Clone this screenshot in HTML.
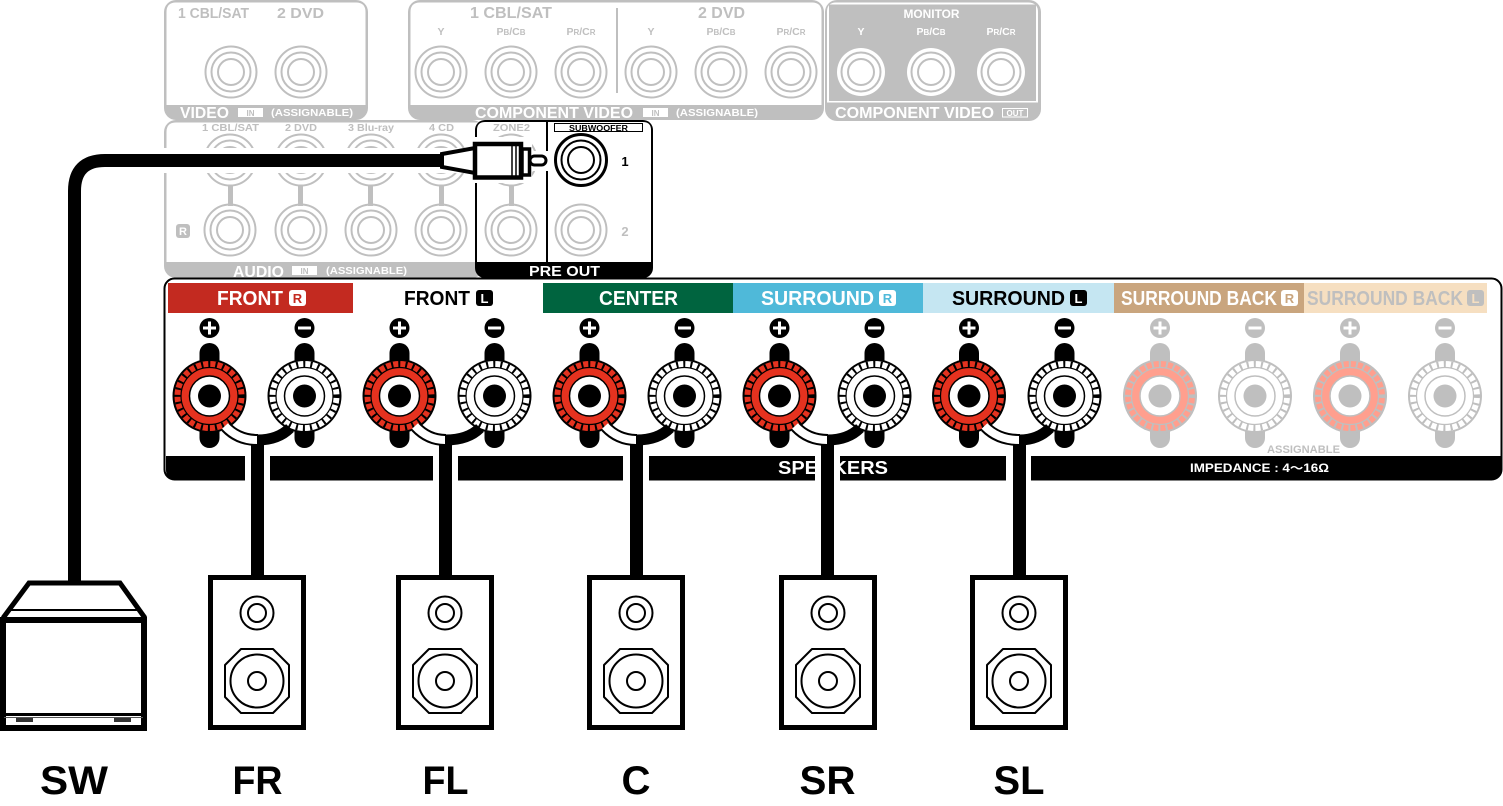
<!DOCTYPE html>
<html><head><meta charset="utf-8"><style>
html,body{margin:0;padding:0;background:#fff;width:1503px;height:806px;overflow:hidden}
svg{display:block}
text{font-family:"Liberation Sans","Noto Sans CJK JP",sans-serif;font-weight:bold}
.g{fill:#bfbfbf}.w{fill:#fff}.k{fill:#000}
.m{text-anchor:middle}
.lab{font-size:40px;fill:#000;text-anchor:middle}
.ban{font-size:20px}
.sm{font-size:10.5px;fill:#bfbfbf;text-anchor:middle}
.b2{font-size:8px}
</style></head><body>
<svg width="1503" height="806" viewBox="0 0 1503 806" xmlns="http://www.w3.org/2000/svg">
<defs>
<g id="jack" fill="none" stroke="currentColor" stroke-width="2">
<circle r="25.5"/><circle r="19.5"/><circle r="13"/>
</g>
<g id="term">
<rect x="-10" y="-53" width="20" height="105" rx="10" fill="currentColor"/>
<circle r="37" fill="currentColor"/>
<circle r="35" fill="var(--o)"/>
<circle r="31.500" fill="none" stroke="currentColor" stroke-width="7" stroke-dasharray="2 5"/>
<circle r="28.500" fill="var(--i)" stroke="currentColor" stroke-width="1.200"/>
<circle r="20" fill="#fff" stroke="var(--l)" stroke-width="1.500"/>
<circle r="11.500" fill="currentColor"/>
</g>
<g id="plus"><circle r="10" fill="currentColor"/><path d="M-6.5 0H6.500M0-6.500V6.500" stroke="#fff" stroke-width="3"/></g>
<g id="minus"><circle r="10" fill="currentColor"/><path d="M-6.500 0H6.500" stroke="#fff" stroke-width="3"/></g>
<g id="spk">
<rect x="2.500" y="2.500" width="93" height="150" fill="#fff" stroke="#000" stroke-width="5"/>
<g fill="none" stroke="#000" stroke-width="2">
<circle cx="49" cy="38" r="16.500"/><circle cx="49" cy="38" r="9"/>
<path d="M33 74H65L81 90V122L65 138H33L17 122V90Z" stroke-linejoin="round"/>
<circle cx="49" cy="106" r="26.500"/><circle cx="49" cy="106" r="9"/>
</g>
</g>
<g id="tr" style="--o:#e5321f;--i:#e5321f;--l:#000"><use href="#term"/></g>
<g id="tw" style="--o:#fff;--i:#fff;--l:#000"><use href="#term"/></g>
<g id="trg" style="--o:#ff9f8e;--i:#ff9f8e;--l:#bfbfbf"><use href="#term"/></g>
<g id="twg" style="--o:#fff;--i:#fff;--l:#bfbfbf"><use href="#term"/></g>
</defs>

<!-- Video panel -->
<rect x="164" y="0" width="204" height="120" rx="12" fill="#bfbfbf"/>
<path d="M176 2.500H356Q365.500 2.500 365.500 12V105H166.500V12Q166.500 2.500 176 2.500Z" fill="#fff"/>
<text x="178" y="18" class="g" font-size="14.500" textLength="71" lengthAdjust="spacingAndGlyphs">1 CBL/SAT</text>
<text x="277" y="18" class="g" font-size="14.500" textLength="47" lengthAdjust="spacingAndGlyphs">2 DVD</text>
<g color="#bfbfbf"><use href="#jack" x="231" y="72"/><use href="#jack" x="301" y="72"/></g>
<text x="180" y="118" class="w" font-size="16" textLength="49" lengthAdjust="spacingAndGlyphs">VIDEO</text>
<rect x="238" y="108" width="25" height="9" fill="#fff"/>
<text x="250.500" y="116" class="g m" font-size="8">IN</text>
<text x="271" y="116" class="w" font-size="10.500" textLength="82" lengthAdjust="spacingAndGlyphs">(ASSIGNABLE)</text>

<!-- Component panel -->
<rect x="408" y="0" width="416" height="120" rx="12" fill="#bfbfbf"/>
<path d="M420 2.500H812Q821.500 2.500 821.500 12V105H410.500V12Q410.500 2.500 420 2.500Z" fill="#fff"/>
<text x="470" y="18" class="g" font-size="15.500" textLength="82" lengthAdjust="spacingAndGlyphs">1 CBL/SAT</text>
<text x="698" y="18" class="g" font-size="15.500" textLength="47" lengthAdjust="spacingAndGlyphs">2 DVD</text>
<rect x="616" y="8" width="2" height="85" fill="#bfbfbf"/>
<text x="441" y="35" class="sm">Y</text>
<text x="511" y="35" class="sm">P<tspan class="b2">B</tspan>/C<tspan class="b2">B</tspan></text>
<text x="581" y="35" class="sm">P<tspan class="b2">R</tspan>/C<tspan class="b2">R</tspan></text>
<text x="651" y="35" class="sm">Y</text>
<text x="721" y="35" class="sm">P<tspan class="b2">B</tspan>/C<tspan class="b2">B</tspan></text>
<text x="791" y="35" class="sm">P<tspan class="b2">R</tspan>/C<tspan class="b2">R</tspan></text>
<g color="#bfbfbf">
<use href="#jack" x="441" y="72"/><use href="#jack" x="511" y="72"/><use href="#jack" x="581" y="72"/>
<use href="#jack" x="651" y="72"/><use href="#jack" x="721" y="72"/><use href="#jack" x="791" y="72"/>
</g>
<text x="475" y="118" class="w" font-size="16" textLength="158" lengthAdjust="spacingAndGlyphs">COMPONENT VIDEO</text>
<rect x="643" y="108" width="25" height="9" fill="#fff"/>
<text x="655.500" y="116" class="g m" font-size="8">IN</text>
<text x="676" y="116" class="w" font-size="10.500" textLength="82" lengthAdjust="spacingAndGlyphs">(ASSIGNABLE)</text>

<!-- Monitor panel -->
<rect x="825" y="0" width="216" height="121" rx="12" fill="#bfbfbf"/>
<path d="M836 2.500H1028Q1038 2.500 1038 12V102.500H827V12Q827 2.500 836 2.500Z" fill="#fff"/>
<rect x="829" y="4.500" width="207" height="96.500" fill="#bfbfbf"/>
<text x="931.500" y="18" class="w m" font-size="12" textLength="56" lengthAdjust="spacingAndGlyphs">MONITOR</text>
<text x="861" y="35" class="w m" font-size="10.500">Y</text>
<text x="931" y="35" class="w m" font-size="10.500">P<tspan class="b2">B</tspan>/C<tspan class="b2">B</tspan></text>
<text x="1001" y="35" class="w m" font-size="10.500">P<tspan class="b2">R</tspan>/C<tspan class="b2">R</tspan></text>
<g color="#bfbfbf">
<circle cx="861" cy="72" r="24" fill="#fff"/><circle cx="931" cy="72" r="24" fill="#fff"/><circle cx="1001" cy="72" r="24" fill="#fff"/>
<use href="#jack" x="861" y="72"/><use href="#jack" x="931" y="72"/><use href="#jack" x="1001" y="72"/>
</g>
<text x="835" y="118" class="w" font-size="16" textLength="159" lengthAdjust="spacingAndGlyphs">COMPONENT VIDEO</text>
<rect x="1002.500" y="108.500" width="25" height="8.500" fill="none" stroke="#fff" stroke-width="1"/>
<text x="1015" y="116" class="w m" font-size="8">OUT</text>

<!-- Audio panel -->
<rect x="164" y="120" width="320" height="158" rx="12" fill="#bfbfbf"/>
<path d="M176 122.500H484V262H166.500V132Q166.500 122.500 176 122.500Z" fill="#fff"/>
<text x="230.500" y="131" class="sm" textLength="57" lengthAdjust="spacingAndGlyphs">1 CBL/SAT</text>
<text x="301" y="131" class="sm" textLength="32" lengthAdjust="spacingAndGlyphs">2 DVD</text>
<text x="371" y="131" class="sm" textLength="46" lengthAdjust="spacingAndGlyphs">3 Blu-ray</text>
<text x="441.500" y="131" class="sm" textLength="25" lengthAdjust="spacingAndGlyphs">4 CD</text>
<rect x="176" y="224" width="14" height="14" rx="3" fill="#bfbfbf"/>
<text x="183" y="235" class="w m" font-size="11">R</text>
<g color="#bfbfbf">
<rect x="228" y="186" width="5" height="20" fill="#bfbfbf"/><rect x="298" y="186" width="5" height="20" fill="#bfbfbf"/><rect x="368" y="186" width="5" height="20" fill="#bfbfbf"/><rect x="439" y="186" width="5" height="20" fill="#bfbfbf"/>
<use href="#jack" x="230" y="160"/><use href="#jack" x="301" y="160"/><use href="#jack" x="371" y="160"/><use href="#jack" x="441" y="160"/>
<use href="#jack" x="230" y="230"/><use href="#jack" x="301" y="230"/><use href="#jack" x="371" y="230"/><use href="#jack" x="441" y="230"/>
</g>
<text x="233" y="277" class="w" font-size="16" textLength="51" lengthAdjust="spacingAndGlyphs">AUDIO</text>
<rect x="292" y="266" width="25" height="9" fill="#fff"/>
<text x="304.500" y="274" class="g m" font-size="8">IN</text>
<text x="326" y="274" class="w" font-size="10.500" textLength="81" lengthAdjust="spacingAndGlyphs">(ASSIGNABLE)</text>

<!-- Pre out -->
<rect x="475" y="120" width="178" height="158" rx="10" fill="#000"/>
<path d="M485 122H643Q651 122 651 130V262H477V130Q477 122 485 122Z" fill="#fff"/>
<rect x="546" y="121" width="2" height="142" fill="#000"/>
<text x="511.500" y="131" class="sm" textLength="37" lengthAdjust="spacingAndGlyphs">ZONE2</text>
<g color="#bfbfbf">
<rect x="509" y="186" width="5" height="20" fill="#bfbfbf"/>
<use href="#jack" x="511" y="160"/><use href="#jack" x="511" y="230"/><use href="#jack" x="581" y="230"/>
</g>
<rect x="554.500" y="123.500" width="88" height="8" fill="#fff" stroke="#000" stroke-width="1"/>
<text x="598.500" y="131" class="k m" font-size="8" textLength="59" lengthAdjust="spacingAndGlyphs">SUBWOOFER</text>
<g color="#000"><use href="#jack" x="581" y="160"/><circle cx="581" cy="160" r="25.500" fill="none" stroke="#000" stroke-width="3"/></g>
<text x="625" y="166" class="k m" font-size="13">1</text>
<text x="625" y="236" class="g m" font-size="13">2</text>
<text x="564.500" y="276" class="w m" font-size="15" textLength="71" lengthAdjust="spacingAndGlyphs">PRE OUT</text>

<!-- Cable with plug -->
<rect x="163" y="148" width="310" height="25" fill="#fff"/>
<rect x="468" y="137" width="64" height="46" fill="#fff"/>
<rect x="530" y="151" width="22" height="20" fill="#fff"/>
<path d="M445 160.500H105Q74.500 160.500 74.500 191V582" fill="none" stroke="#000" stroke-width="13"/>
<path d="M442 154L475 148V173L442 167Z" fill="#fff" stroke="#000" stroke-width="4"/>
<rect x="475" y="144" width="46" height="33.500" fill="#fff" stroke="#000" stroke-width="4.500"/>
<path d="M512 144V178M516 144V178" stroke="#000" stroke-width="1.500"/>
<rect x="522" y="149" width="7.500" height="26" fill="#fff" stroke="#000" stroke-width="3.500"/>
<rect x="530" y="156" width="16" height="9" rx="4.500" fill="#fff" stroke="#000" stroke-width="3"/>

<!-- Speakers panel -->
<rect x="164.500" y="278.500" width="1337" height="201" rx="10" fill="#fff" stroke="#000" stroke-width="2"/>
<rect x="168" y="283" width="185" height="30" fill="#c32a20"/>
<rect x="543" y="283" width="190" height="30" fill="#00643f"/>
<rect x="733" y="283" width="190" height="30" fill="#4fb9d9"/>
<rect x="923" y="283" width="191" height="30" fill="#c5e6f2"/>
<rect x="1114" y="283" width="190" height="30" fill="#c9a57e"/>
<rect x="1304" y="283" width="183" height="30" fill="#f6dfc1"/>

<text x="217" y="305" class="ban w" textLength="66" lengthAdjust="spacingAndGlyphs">FRONT</text>
<rect x="289" y="290" width="17" height="16" rx="3" fill="#fff"/><text x="297.500" y="303" class="m" font-size="13" fill="#c32a20">R</text>
<text x="404" y="305" class="ban k" textLength="66" lengthAdjust="spacingAndGlyphs">FRONT</text>
<rect x="476" y="290" width="17" height="16" rx="3" fill="#000"/><text x="484.500" y="303" class="w m" font-size="13">L</text>
<text x="599" y="305" class="ban w" textLength="79" lengthAdjust="spacingAndGlyphs">CENTER</text>
<text x="761" y="305" class="ban w" textLength="113" lengthAdjust="spacingAndGlyphs">SURROUND</text>
<rect x="879" y="290" width="17" height="16" rx="3" fill="#fff"/><text x="887.500" y="303" class="m" font-size="13" fill="#4fb9d9">R</text>
<text x="952" y="305" class="ban k" textLength="113" lengthAdjust="spacingAndGlyphs">SURROUND</text>
<rect x="1070" y="290" width="17" height="16" rx="3" fill="#000"/><text x="1078.500" y="303" class="w m" font-size="13">L</text>
<text x="1121" y="305" class="ban w" textLength="156" lengthAdjust="spacingAndGlyphs">SURROUND BACK</text>
<rect x="1281" y="290" width="17" height="16" rx="3" fill="#fff"/><text x="1289.500" y="303" class="m" font-size="13" fill="#c9a57e">R</text>
<text x="1307" y="305" class="ban g" textLength="156" lengthAdjust="spacingAndGlyphs">SURROUND BACK</text>
<rect x="1467" y="290" width="17" height="16" rx="3" fill="#bfbfbf"/><text x="1475.500" y="303" class="m" font-size="13" fill="#f6dfc1">L</text>

<g color="#000">
<use href="#plus" x="209.500" y="328"/><use href="#minus" x="304.500" y="328"/>
<use href="#plus" x="399.500" y="328"/><use href="#minus" x="494.500" y="328"/>
<use href="#plus" x="589.500" y="328"/><use href="#minus" x="684.500" y="328"/>
<use href="#plus" x="779.500" y="328"/><use href="#minus" x="874.500" y="328"/>
<use href="#plus" x="969" y="328"/><use href="#minus" x="1064.500" y="328"/>
<use href="#tr" x="209.500" y="396"/><use href="#tw" x="304.500" y="396"/>
<use href="#tr" x="399.500" y="396"/><use href="#tw" x="494.500" y="396"/>
<use href="#tr" x="589.500" y="396"/><use href="#tw" x="684.500" y="396"/>
<use href="#tr" x="779.500" y="396"/><use href="#tw" x="874.500" y="396"/>
<use href="#tr" x="969" y="396"/><use href="#tw" x="1064.500" y="396"/>
</g>
<g color="#bfbfbf">
<use href="#plus" x="1160" y="328"/><use href="#minus" x="1255" y="328"/>
<use href="#plus" x="1350" y="328"/><use href="#minus" x="1445" y="328"/>
<use href="#trg" x="1160" y="396"/><use href="#twg" x="1255" y="396"/>
<use href="#trg" x="1350" y="396"/><use href="#twg" x="1445" y="396"/>
</g>

<!-- Black bar -->
<path d="M166 456H1501V470Q1501 479 1492 479H175Q166 479 166 470Z" fill="#000"/>
<text x="833" y="474" class="w m" font-size="18" textLength="110" lengthAdjust="spacingAndGlyphs">SPEAKERS</text>
<text x="1259.500" y="472" class="w m" font-size="11.500" textLength="139" lengthAdjust="spacingAndGlyphs">IMPEDANCE : 4～16Ω</text>
<text x="1303.500" y="453" class="g m" font-size="11" textLength="73" lengthAdjust="spacingAndGlyphs">ASSIGNABLE</text>

<!-- Speaker wires -->
<g fill="#fff">
<rect x="245" y="450" width="25" height="34"/><rect x="433" y="450" width="25" height="34"/>
<rect x="623" y="450" width="26" height="34"/><rect x="815" y="450" width="25" height="34"/><rect x="1006" y="450" width="25" height="34"/>
</g>
<g fill="#000">
<rect x="251" y="440" width="13" height="136"/><rect x="439" y="440" width="13" height="136"/><rect x="630" y="440" width="13" height="136"/>
<rect x="821" y="440" width="13" height="136"/><rect x="1013" y="440" width="13" height="136"/>
</g>
<g fill="none">
<path d="M290 428Q278 440 257.500 440M480 428Q468 440 445.500 440M670 428Q658 440 636.500 440M860 428Q848 440 827.500 440M1050 428Q1038 440 1019.500 440" stroke="#000" stroke-width="11"/>
<path d="M226 427Q238 440 258 440M416 427Q428 440 446 440M606 427Q618 440 637 440M796 427Q808 440 828 440M985.500 427Q998 440 1020 440" stroke="#000" stroke-width="12"/>
<path d="M225 426Q238 440 257 440M415 426Q428 440 445 440M605 426Q618 440 636 440M795 426Q808 440 827 440M984.500 426Q998 440 1019 440" stroke="#fff" stroke-width="8"/>
</g>

<!-- Speaker boxes -->
<use href="#spk" x="208" y="575"/>
<use href="#spk" x="396" y="575"/>
<use href="#spk" x="587" y="575"/>
<use href="#spk" x="779" y="575"/>
<use href="#spk" x="970" y="575"/>

<!-- Subwoofer -->
<path d="M3 618L29 583H120L145 618" fill="#fff" stroke="#000" stroke-width="5"/>
<path d="M8 610H139" stroke="#000" stroke-width="2"/>
<rect x="3" y="620" width="141" height="108" fill="#fff" stroke="#000" stroke-width="6"/>
<rect x="0" y="617" width="147" height="5" fill="#000"/>
<rect x="4" y="713" width="139" height="3" fill="#000"/>
<rect x="4" y="717" width="139" height="1" fill="#555"/>
<rect x="16" y="718" width="17" height="4" fill="#333"/>
<rect x="114" y="718" width="17" height="4" fill="#333"/>

<!-- Labels -->
<text x="74" y="794" class="lab" textLength="68" lengthAdjust="spacingAndGlyphs">SW</text>
<text x="257.500" y="794" class="lab" textLength="50" lengthAdjust="spacingAndGlyphs">FR</text>
<text x="445.500" y="794" class="lab" textLength="46" lengthAdjust="spacingAndGlyphs">FL</text>
<text x="636" y="794" class="lab" textLength="29" lengthAdjust="spacingAndGlyphs">C</text>
<text x="827.500" y="794" class="lab" textLength="56" lengthAdjust="spacingAndGlyphs">SR</text>
<text x="1019" y="794" class="lab" textLength="51" lengthAdjust="spacingAndGlyphs">SL</text>
</svg>
</body></html>
